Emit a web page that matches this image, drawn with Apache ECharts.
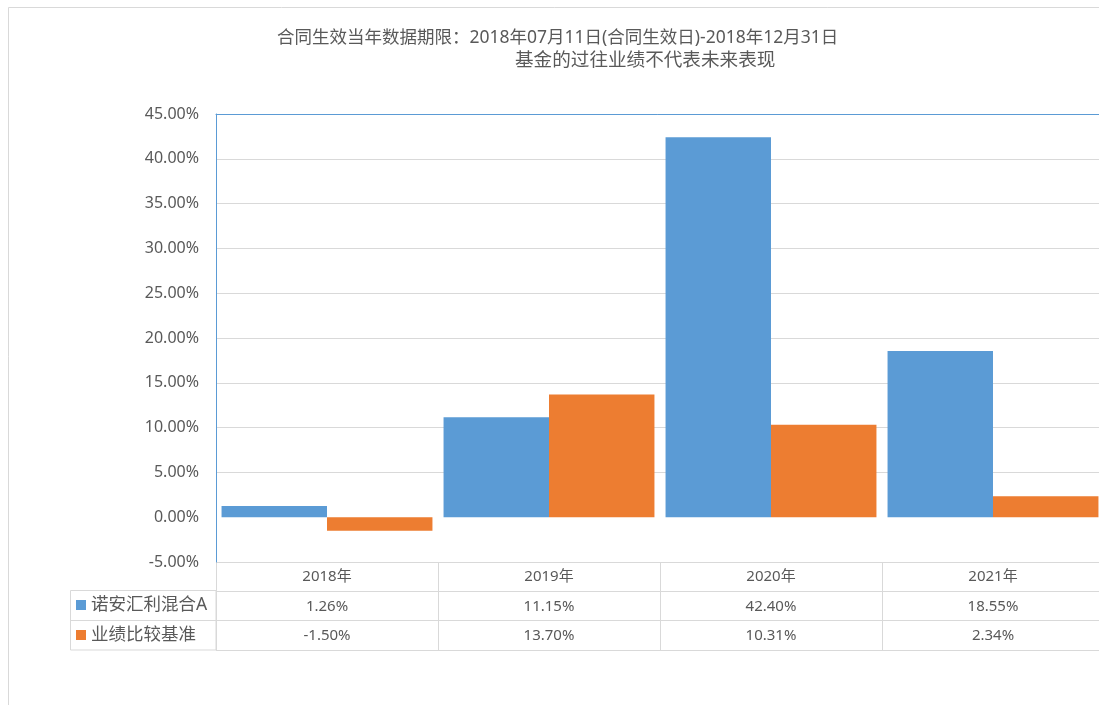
<!DOCTYPE html>
<html>
<head>
<meta charset="utf-8">
<script src="https://cdn.jsdelivr.net/npm/echarts@6/dist/echarts.min.js"></script>
<style>html,body{margin:0;padding:0;background:#fff;}#c{width:1099px;height:705px;}</style>
</head>
<body>
<div id="c"></div>
<script>
var categories = ['2018年', '2019年', '2020年', '2021年'];
var seriesNames = ['诺安汇利混合A', '业绩比较基准'];
var fundValues = [1.26, 11.15, 42.40, 18.55];
var benchValues = [-1.50, 13.70, 10.31, 2.34];
var titleLine1 = '合同生效当年数据期限：2018年07月11日(合同生效日)-2018年12月31日';
var titleLine2 = '基金的过往业绩不代表未来表现';

var FONT = "'Noto Sans', 'Noto Sans CJK SC', sans-serif";
var TXT = '#595959';
var GRID_C = '#d9d9d9';
var BLUE = '#5b9bd5';
var ORANGE = '#ed7d31';
function pct(v) { return v.toFixed(2) + '%'; }

// hide the 0% gridline (index 1 from min)
var splitColors = [];
for (var k = 0; k <= 10; k++) splitColors.push(k === 1 ? 'rgba(0,0,0,0)' : GRID_C);

var chart = echarts.init(document.getElementById('c'));
chart.setOption({
  animation: false,
  backgroundColor: '#fff',
  textStyle: { fontFamily: FONT },
  title: [
    { text: titleLine1, left: 277, top: 29, padding: 0, textStyle: { fontSize: 17.5, fontWeight: 'normal', color: TXT, fontFamily: FONT } },
    { text: titleLine2, left: 515, top: 51, padding: 0, textStyle: { fontSize: 18.6, fontWeight: 'normal', color: TXT, fontFamily: FONT } }
  ],
  legend: {
    orient: 'vertical', left: 76, top: 595, padding: 0, itemWidth: 10, itemHeight: 10, itemGap: 10, itemTextGap: 5,
    icon: 'rect', data: seriesNames,
    textStyle: { fontSize: 17.5, color: TXT, lineHeight: 20, fontFamily: FONT }
  },
  grid: [
    { left: 216, top: 114, width: 888, height: 448, outerBoundsMode: 'none', containLabel: false },
    { left: 216, top: 562, width: 888, height: 88, outerBoundsMode: 'none', containLabel: false }
  ],
  xAxis: [
    {
      type: 'category', gridIndex: 0, data: categories, position: 'bottom',
      axisLine: { show: false }, axisTick: { show: false },
      axisLabel: {
        margin: 0, interval: 0,
        formatter: function (v, i) {
          return '{a|' + v + '}\n{b|' + pct(fundValues[i]) + '}\n{b|' + pct(benchValues[i]) + '}';
        },
        rich: {
          a: { fontSize: 15, color: TXT, lineHeight: 29.5, fontFamily: FONT },
          b: { fontSize: 15, color: TXT, lineHeight: 29.5, fontFamily: FONT }
        }
      }
    },
    {
      type: 'category', gridIndex: 1, data: categories,
      axisLine: { show: false }, axisTick: { show: false }, axisLabel: { show: false },
      splitLine: { show: true, lineStyle: { color: GRID_C, width: 1 } }
    },
    {
      type: 'category', gridIndex: 0, data: categories, position: 'top',
      axisLine: { show: true, lineStyle: { color: BLUE, width: 1 } }, axisTick: { show: false }, axisLabel: { show: false }
    }
  ],
  yAxis: [
    {
      type: 'value', gridIndex: 0, min: -5, max: 45, interval: 5,
      axisLine: { show: true, lineStyle: { color: BLUE, width: 1 } }, axisTick: { show: false },
      axisLabel: { formatter: function (v) { return pct(v); }, fontSize: 16, color: TXT, margin: 17, fontFamily: FONT },
      splitLine: { show: true, lineStyle: { color: splitColors, width: 1 } }
    },
    {
      type: 'value', gridIndex: 1, min: 0, max: 3, interval: 1,
      axisLine: { show: false }, axisTick: { show: false }, axisLabel: { show: false },
      splitLine: { show: true, lineStyle: { color: GRID_C, width: 1 } }
    }
  ],
  series: [
    { name: seriesNames[0], type: 'bar', xAxisIndex: 0, yAxisIndex: 0, data: fundValues,
      itemStyle: { color: BLUE }, barGap: '0%', barCategoryGap: '5%' },
    { name: seriesNames[1], type: 'bar', xAxisIndex: 0, yAxisIndex: 0, data: benchValues,
      itemStyle: { color: ORANGE }, barGap: '0%', barCategoryGap: '5%' }
  ],
  graphic: [
    { type: 'rect', shape: { x: 8.5, y: 7.5, width: 1300, height: 900 }, style: { fill: null, stroke: GRID_C, lineWidth: 1 }, silent: true, z: 0 },
    { type: 'rect', shape: { x: 70.5, y: 590.5, width: 145.5, height: 59.5 }, style: { fill: null, stroke: GRID_C, lineWidth: 1 }, silent: true, z: 0 },
    { type: 'line', shape: { x1: 70.5, y1: 620.5, x2: 216, y2: 620.5 }, style: { stroke: GRID_C, lineWidth: 1 }, silent: true, z: 0 }
  ]
});
</script>
</body>
</html>
